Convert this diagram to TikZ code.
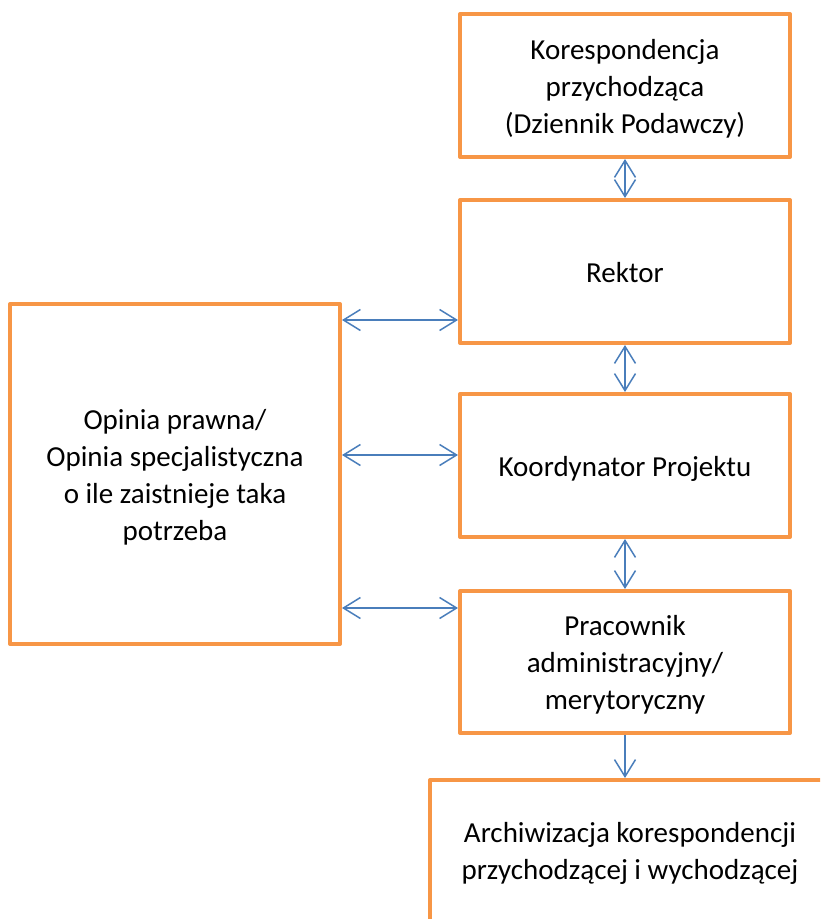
\documentclass[tikz,border=0pt]{standalone}
\usepackage{fontspec}
\setmainfont{Carlito}
\usetikzlibrary{arrows.meta}
\definecolor{pomarancz}{HTML}{F79646}
\definecolor{niebieski}{HTML}{4A7EBB}
% wysokość wiersza jak w Wordzie
\newcommand\podpora{\rule[-8pt]{0pt}{37pt}}
\tikzset{
  box/.style={draw=pomarancz,line width=4pt,line join=round,align=center,
    minimum width=330pt,minimum height=143pt,font=\fontsize{29pt}{37pt}\selectfont},
  link/.style={niebieski,line width=1.5pt,
    {Straight Barb[length=17pt,width=21pt]}-{Straight Barb[length=17pt,width=21pt]}},
  down/.style={niebieski,line width=1.5pt,-{Straight Barb[length=17pt,width=21pt]}}
}
\begin{document}
\begin{tikzpicture}[x=1pt,y=-1pt]
  \clip (0,0) rectangle (820,919);
  % prawa kolumna
  \node[box] (b1) at (625,85.5) {\podpora Korespondencja\\przychodząca\\(Dziennik Podawczy)\podpora};
  \node[box] (b2) at (625,271.5) {\podpora Rektor};
  \node[box] (b3) at (625,465.5) {\podpora Koordynator Projektu};
  \node[box,minimum height=142pt] (b4) at (625,662) {\podpora Pracownik\\administracyjny/\\merytoryczny\podpora};
  % lewa ramka i archiwum (ucięte na brzegu)
  \node[box,minimum height=340pt] (b5) at (175,474) {\podpora Opinia prawna/\\Opinia specjalistyczna\\o ile zaistnieje taka\\potrzeba\podpora};
  \node[box,minimum width=400pt,minimum height=180pt] (b6) at (630,870) {\podpora Archiwizacja korespondencji\\przychodzącej i wychodzącej\rule[-48pt]{0pt}{0pt}};
  % wysokości strzałek poziomych
  \coordinate (h1) at (0,320);
  \coordinate (h2) at (0,455);
  \coordinate (h3) at (0,608);

  \draw[link] (b1.south) -- (b2.north);
  \draw[link] (b2.south) -- (b3.north);
  \draw[link] (b3.south) -- (b4.north);
  \draw[down] (b4.south) -- (b4.south |- b6.north);
  \draw[link] (b5.east |- h1) -- (b2.west |- h1);
  \draw[link] (b5.east |- h2) -- (b3.west |- h2);
  \draw[link] (b5.east |- h3) -- (b4.west |- h3);
\end{tikzpicture}
\end{document}
